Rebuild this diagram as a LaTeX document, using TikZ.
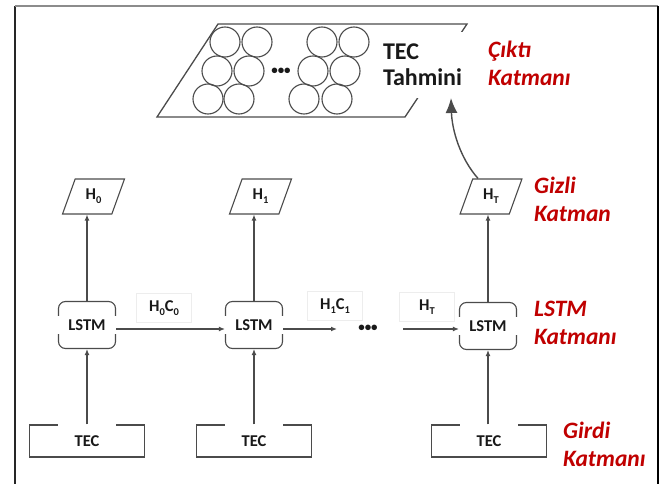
\documentclass[tikz,border=0pt]{standalone}
\usepackage{fontspec}
\setmainfont{Carlito}
\usetikzlibrary{arrows.meta,shapes.geometric,calc}
\definecolor{lblred}{RGB}{192,0,0}
\definecolor{edge}{RGB}{75,75,75}
\definecolor{ink}{RGB}{25,25,25}
\newcommand\lowsub[1]{\raisebox{-0.25em}{\fontsize{10.5}{10.5}\selectfont #1}}
\begin{document}
\begin{tikzpicture}[x=1pt,y=-1pt,
  every node/.style={font=\bfseries\fontsize{16.5}{19}\selectfont, text=ink},
  tecbox/.style={draw=edge, line width=1.1pt, minimum width=115pt, minimum height=32pt, inner sep=0pt},
  tecmask/.style={fill=white, inner sep=0pt, minimum width=58pt, text height=22pt, text depth=4pt},
  lstmbox/.style={draw=edge, line width=1.1pt, rounded corners=7pt, minimum width=57pt, minimum height=47pt, inner sep=0pt},
  lstmmask/.style={fill=white, inner sep=0pt, minimum width=64pt, minimum height=17pt},
  hbox/.style={draw=edge, line width=1.1pt, shape=trapezium, trapezium left angle=70, trapezium right angle=110, trapezium stretches=true, minimum width=62pt, minimum height=35pt, inner sep=0pt},
  lblbox/.style={draw=black!7, line width=0.8pt, minimum width=55pt, minimum height=29pt, inner sep=0pt},
  layer/.style={font=\bfseries\itshape\fontsize{23.5}{28}\selectfont, text=lblred, align=left, anchor=west, inner sep=0pt},
  arr/.style={draw=edge, line width=1.2pt, -{Latex[length=6pt,width=5pt]}},
  ring/.style={draw=edge, line width=1.1pt},
  dotsnode/.style={font=\bfseries\fontsize{13}{13}\selectfont, inner sep=0pt}
]
\useasboundingbox (0,0) rectangle (665,484);
% frame
\draw[black!85, line width=1.5pt] (15,484) -- (15,6);
\draw[black!45, line width=1.5pt] (15,6) -- (658,6);
\draw[black, line width=2pt] (658,6) -- (658,484);

% output layer
\draw[edge, line width=1.3pt] (218,24) -- (467,24) -- (405,117) -- (157,117) -- cycle;
\foreach \x/\y in {225/42,257/42,322/42,354/42,217/71,249/71,313/71,345/71,208/99,239/99,304/99,337/99}
  \draw[ring] (\x,\y) circle[radius=15];
\node[dotsnode] (topdots) at (281,71) {•••};
\node[fill=white, minimum width=96pt, minimum height=66pt, text width=80pt, align=left, inner sep=0pt,
      font=\bfseries\fontsize{24}{26}\selectfont] (out) at (423,65) {TEC\\Tahmini};

% input boxes
\node[tecbox] (t0) at (87,441) {};
\node[tecmask, anchor=base] (t0l) at (87,446) {TEC};
\node[tecbox] (t1) at (254,441) {};
\node[tecmask, anchor=base] (t1l) at (254,446) {TEC};
\node[tecbox] (t2) at (489,441) {};
\node[tecmask, anchor=base] (t2l) at (489,446) {TEC};

% LSTM boxes
\node[lstmbox] (l0) at (87,325) {};
\node[lstmmask] (l0l) at (l0) {LSTM};
\node[lstmbox] (l1) at (254,325) {};
\node[lstmmask] (l1l) at (l1) {LSTM};
\node[lstmbox] (l2) at (488,326) {};
\node[lstmmask] (l2l) at (l2) {LSTM};

% hidden boxes
\node[hbox] (h0) at (93.5,196.5) {H\lowsub{0}};
\node[hbox] (h1) at (260.5,196.5) {H\lowsub{1}};
\node[hbox] (h2) at (491,196.5) {H\lowsub{T}};

% vertical arrows
\draw[arr] (l0.south |- t0.north) -- (l0.south);
\draw[arr] (l1.south |- t1.north) -- (l1.south);
\draw[arr] (l2.south |- t2.north) -- (l2.south);
\draw[arr] (l0.north) -- (l0.north |- h0.south);
\draw[arr] (l1.north) -- (l1.north |- h1.south);
\draw[arr] (l2.north) -- (l2.north |- h2.south);

% horizontal arrows
\coordinate (d1) at (337,329);
\coordinate (d2) at (403,329);
\draw[arr] ([yshift=-4pt]l0.east) -- ([yshift=-4pt]l1.west);
\draw[arr] ([yshift=-4pt]l1.east) -- (d1);
\node[dotsnode] (middots) at (368,328) {•••};
\draw[arr] (d2) -- ([yshift=-3pt]l2.west);
\node[lblbox] (c0) at (164,308) {H\lowsub{0}C\lowsub{0}};
\node[lblbox] (c1) at (335,306) {H\lowsub{1}C\lowsub{1}};
\node[lblbox] (c2) at (427,307) {H\lowsub{T}};

% curved arrow to output
\coordinate (tip) at (451,98);
\draw[draw=edge, line width=1.4pt, -{Latex[length=15pt,width=12pt]}] ([xshift=-13pt]h2.north) .. controls (460,158) and (452,130) .. (tip);

% layer labels
\node[layer] (lo) at (488,63.5) {Çıktı\\Katmanı};
\node[layer] (lh) at (534,199) {Gizli\\Katman};
\node[layer] (ll) at (534,322.5) {LSTM\\Katmanı};
\node[layer] (li) at (563,444) {Girdi\\Katmanı};
\end{tikzpicture}
\end{document}
